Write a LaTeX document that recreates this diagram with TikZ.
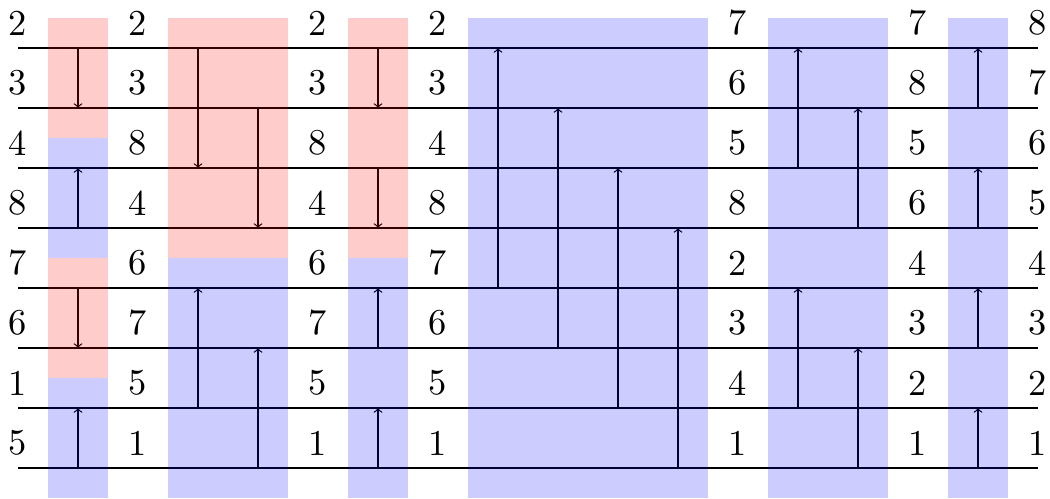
\documentclass[tikz,border=0pt]{standalone}
\usepackage{tikz}
\begin{document}
\begin{tikzpicture}[x=1cm,y=1cm,
  wire/.style={semithick},
  cmp/.style={semithick,->},
  num/.style={font=\normalsize,scale=1.728,anchor=south},
  redzone/.style={fill=red,opacity=0.2},
  bluezone/.style={fill=blue,opacity=0.2}]
\useasboundingbox (-0.3,0.8) rectangle (17.2,-7.5);
% wires
\foreach \k in {0,...,7} {
  \coordinate (L\k) at (0,-\k);
  \coordinate (R\k) at (17,-\k);
  \draw[wire] (L\k) -- (R\k);
}
% numbers
\foreach \x/\lst [count=\c] in {0/{2,3,4,8,7,6,1,5}, 2/{2,3,8,4,6,7,5,1}, 5/{2,3,8,4,6,7,5,1}, 7/{2,3,4,8,7,6,5,1}, 12/{7,6,5,8,2,3,4,1}, 15/{7,8,5,6,4,3,2,1}, 17/{8,7,6,5,4,3,2,1}} {
  \foreach \v [count=\r from 0] in \lst {
    \node[num] (n\c-\r) at (\x,-\r) {\v};
  }
}
% comparators
\foreach \x/\a/\b in {1/0/1, 1/3/2, 1/4/5, 1/7/6,
  3/0/2, 4/1/3, 3/6/4, 4/7/5,
  6/0/1, 6/2/3, 6/5/4, 6/7/6,
  8/4/0, 9/5/1, 10/6/2, 11/7/3,
  13/2/0, 14/3/1, 13/6/4, 14/7/5,
  16/1/0, 16/3/2, 16/5/4, 16/7/6} {
  \coordinate (s) at (\x,-\a);
  \coordinate (e) at (\x,-\b);
  \draw[cmp] (s) -- (e);
}
% zones
\fill[redzone] (0.5,0.5) rectangle (1.5,-1.5);
\fill[bluezone] (0.5,-1.5) rectangle (1.5,-3.5);
\fill[redzone] (0.5,-3.5) rectangle (1.5,-5.5);
\fill[bluezone] (0.5,-5.5) rectangle (1.5,-7.5);
\fill[redzone] (2.5,0.5) rectangle (4.5,-3.5);
\fill[bluezone] (2.5,-3.5) rectangle (4.5,-7.5);
\fill[redzone] (5.5,0.5) rectangle (6.5,-3.5);
\fill[bluezone] (5.5,-3.5) rectangle (6.5,-7.5);
\fill[bluezone] (7.5,0.5) rectangle (11.5,-7.5);
\fill[bluezone] (12.5,0.5) rectangle (14.5,-7.5);
\fill[bluezone] (15.5,0.5) rectangle (16.5,-7.5);
\end{tikzpicture}
\end{document}
